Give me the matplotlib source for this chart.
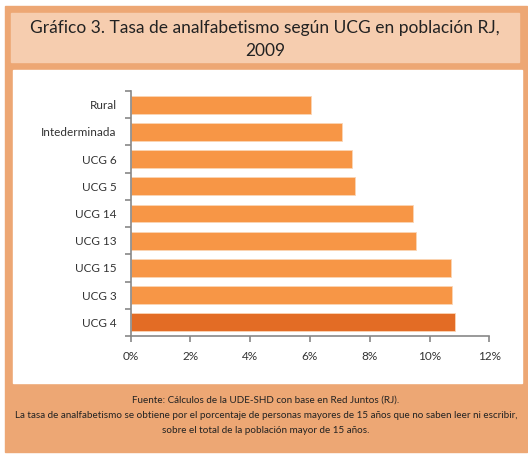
import matplotlib.pyplot as plt
import matplotlib.patches as mpatches
import numpy as np

plt.rcParams['font.family'] = ['Lato', 'DejaVu Sans']

categories = ['Rural', 'Intederminada', 'UCG 6', 'UCG 5', 'UCG 14',
              'UCG 13', 'UCG 15', 'UCG 3', 'UCG 4']
rates = [6.04, 7.06, 7.39, 7.50, 9.46, 9.56, 10.71, 10.76, 10.86]
x_ticks = [0, 2, 4, 6, 8, 10, 12]

border = '#EDA774'
band = '#F6CDAF'
bar_col = '#F79646'
hi_col = '#E36C25'
axis_grey = '#878787'

W, H = 528, 454
fig = plt.figure(figsize=(W / 100, H / 100), dpi=100)


def frect(x0, y0, x1, y1, color):
    # pixel box (top-left origin) -> figure rectangle, kept behind the axes
    fig.patches.append(mpatches.Rectangle((x0 / W, 1 - y1 / H), (x1 - x0) / W, (y1 - y0) / H,
                                          transform=fig.transFigure, color=color, zorder=-5))


frect(5, 6, 527, 452, border)
frect(11, 13, 519, 62, band)
frect(13, 70, 522, 383, 'white')

fig.text(265 / W, 1 - 28 / H, 'Gráfico 3. Tasa de analfabetismo según UCG en población RJ,',
         ha='center', va='center', fontsize=12.5, color='#222222')
fig.text(265 / W, 1 - 51 / H, '2009', ha='center', va='center', fontsize=12.5, color='#222222')

foot = ('Fuente: Cálculos de la UDE-SHD con base en Red Juntos (RJ).\n'
        'La tasa de analfabetismo se obtiene por el porcentaje de personas mayores de 15 años que no saben leer ni escribir,\n'
        'sobre el total de la población mayor de 15 años.')
fig.text(266 / W, 1 - 415 / H, foot, ha='center', va='center', fontsize=7.1,
         color='#222222', linespacing=1.9)

ax = fig.add_axes([130.7 / W, 1 - 336 / H, (489.3 - 130.7) / W, (336 - 91) / H])
ax.set_zorder(2)
ax.set_facecolor('white')
ypos = np.arange(len(categories))
colors = [bar_col] * (len(categories) - 1) + [hi_col]
ax.barh(ypos, rates, height=0.66, color=colors, edgecolor='#FBD5B5', linewidth=0.6)
ax.set_ylim(len(categories) - 0.5, -0.5)
ax.set_xlim(0, 12)

ax.set_xticks(x_ticks)
ax.set_xticklabels([f'{t}%' for t in x_ticks], fontsize=8.5, color='#333333')
ax.set_yticks(ypos)
ax.set_yticklabels(categories, fontsize=8.5, color='#333333')
ax.set_yticks(np.arange(len(categories) + 1) - 0.5, minor=True)
ax.tick_params(axis='y', which='major', length=0, pad=10)
ax.tick_params(axis='y', which='minor', length=4, color=axis_grey, width=1.2)
ax.tick_params(axis='x', length=4, color=axis_grey, width=1.2, pad=7)

for s in ['top', 'right']:
    ax.spines[s].set_visible(False)
for s in ['left', 'bottom']:
    ax.spines[s].set_color(axis_grey)
    ax.spines[s].set_linewidth(1.2)

fig.savefig('out.png', dpi=100)
